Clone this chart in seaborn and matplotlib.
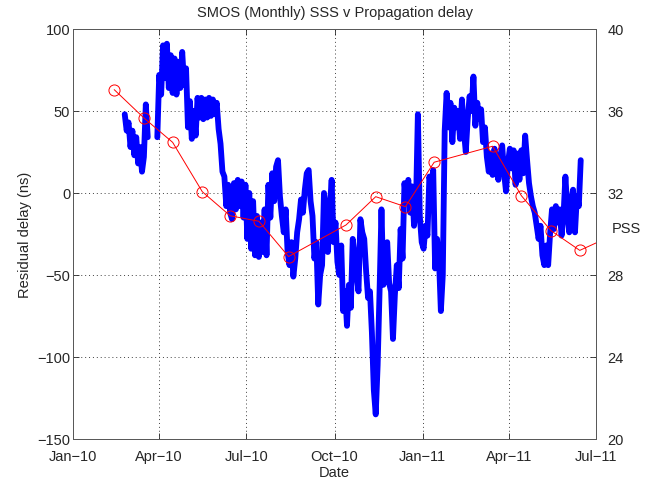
import numpy as np
import pandas as pd
import seaborn as sns
import matplotlib.pyplot as plt
import matplotlib.dates as mdates

# residual delay (ns), sampled every 2 days from 24 Feb 2010; nan = no data
blue_start = '2010-02-24'
blue_delay = [48, 38, 43, 28, 38, 23, 34, 18, 28, 13, 22, 54, 34,
              np.nan, np.nan, np.nan, np.nan,
              34, 72, 60, 90, 70, 91, 64, 84, 61, 82, 60, 80, 64, 86, 66, 76,
              40, 56, 33, 50, 35, 58, 46, 58, 45, 57, 46, 58, 47, 57, 48, 55,
              39, 30, 13, 10, -8, 5, -12, -16, 6, -10, 8, -8, 7, -15, 5, -28,
              0, -34, -5, -38, -14, -39, -18, -36, -10, -38, 5, -15, 12, -5,
              16, 20, -2, -14, -24, -10, -36, -44, -30, -51, -40, -24, -16, -4,
              -12, 2, 12, 14, -5, -14, -40, -30, -68, -50, -44, 0, -10, -36,
              -10, 8, -30, -18, -42, -50, -32, -72, -60, -81, -56, -70, -28,
              -38, -50, -60, -16, -24, -28, -48, -64, -60, -85, -120, -135,
              -105, -60, -10, -56, -34, -30, -55, -60, -89, -62, -44, -58, -22,
              -40, 6, -5, 8, -12, 4, -20, -8, 48, -14, -30, -34, -20, -26, 10,
              4, 14, -46, -28, -40, -72, -50, 38, 61,
              40, 55, 31, 52, 40, 50, 33, 57, 38, 25, 45, 59, 50, 71, 41, 55,
              45, 51, 31, 40, 22, 13, 24, 11, 27, 14, 8, 22, 29, 12, 1, 18, 27,
              15, 26, 5, 24, 8, 26, 12, 35, 20, 6, -2, -8, -12, -20, -28, -20,
              -38, -44, -32, -44, -25, -10, -22, -8, -18, -10, -26, -14, 10,
              -10, -24, -5, 2, -24, -2, -8, 20]

# monthly SMOS sea surface salinity (PSS)
sss_dates = ['2010-02-13', '2010-03-16', '2010-04-15', '2010-05-16', '2010-06-14',
             '2010-07-14', '2010-08-14', '2010-10-13', '2010-11-13', '2010-12-14',
             '2011-01-13', '2011-03-15', '2011-04-14', '2011-05-15', '2011-06-14',
             '2011-07-14']
sss_vals = [37.04, 35.66, 34.47, 32.06, 30.89, 30.62, 28.9, 30.44, 31.82, 31.33,
            33.5, 34.28, 31.87, 30.16, 29.2, 29.84]

x_ticks = ['2010-01-01', '2010-04-01', '2010-07-01', '2010-10-01',
           '2011-01-01', '2011-04-01', '2011-07-01']

df_b = pd.DataFrame({'date': pd.date_range(blue_start, periods=len(blue_delay), freq='2D'),
                     'delay': blue_delay})
df_b['seg'] = df_b['delay'].isna().cumsum()
df_b = df_b.dropna()
df_s = pd.DataFrame({'date': pd.to_datetime(sss_dates), 'sss': sss_vals})

sns.set_style('ticks')
plt.rcParams['font.family'] = ['Liberation Sans', 'DejaVu Sans']
plt.rcParams['xtick.direction'] = 'in'
plt.rcParams['ytick.direction'] = 'in'

fig = plt.figure(figsize=(6.53, 4.85), dpi=100)
ax = fig.add_axes([0.1118, 0.0928, 0.801, 0.8454])
grid_ls = (0, (1, 3))

sns.lineplot(data=df_b, x='date', y='delay', units='seg', estimator=None,
             color='#0000ff', lw=4.2, ax=ax, legend=False)
ax.set_xlim(pd.Timestamp('2010-01-01'), pd.Timestamp('2011-07-01'))
ax.set_ylim(-150, 100)
ax.set_yticks([-150, -100, -50, 0, 50, 100])
ax.set_xticks(pd.to_datetime(x_ticks))
ax.xaxis.set_major_formatter(mdates.DateFormatter('%b\u2212%y'))
ax.grid(True, color='0.25', linestyle=grid_ls, lw=0.7)
ax.set_xlabel('Date', fontsize=10.5, labelpad=2)
ax.set_ylabel('Residual delay (ns)', fontsize=10.5, labelpad=4)
ax.set_title('SMOS (Monthly) SSS v Propagation delay', fontsize=10.5, pad=9)
ax.tick_params(axis='y', labelsize=10.5, length=4, width=0.6, pad=2)
ax.tick_params(axis='x', labelsize=10.5, length=4, width=0.6, top=True, pad=7)

ax2 = ax.twinx()
sns.lineplot(data=df_s, x='date', y='sss', color='red', lw=0.7, marker='o',
             markersize=8, markerfacecolor='none', markeredgecolor='red',
             markeredgewidth=0.7, ax=ax2)
ax2.set_xlim(pd.Timestamp('2010-01-01'), pd.Timestamp('2011-07-01'))
ax2.set_ylim(20, 40)
ax2.set_yticks([20, 24, 28, 32, 36, 40])
ax2.set_ylabel('')
ax2.tick_params(labelsize=10.5, length=4, width=0.6, pad=8)
ax2.text(1.03, 30.3, 'PSS', transform=ax2.get_yaxis_transform(), fontsize=10.5,
         ha='left', va='center')

for a in (ax, ax2):
    for s in a.spines.values():
        s.set_color('0.35')
        s.set_linewidth(0.7)

fig.savefig('out.png', dpi=100)
